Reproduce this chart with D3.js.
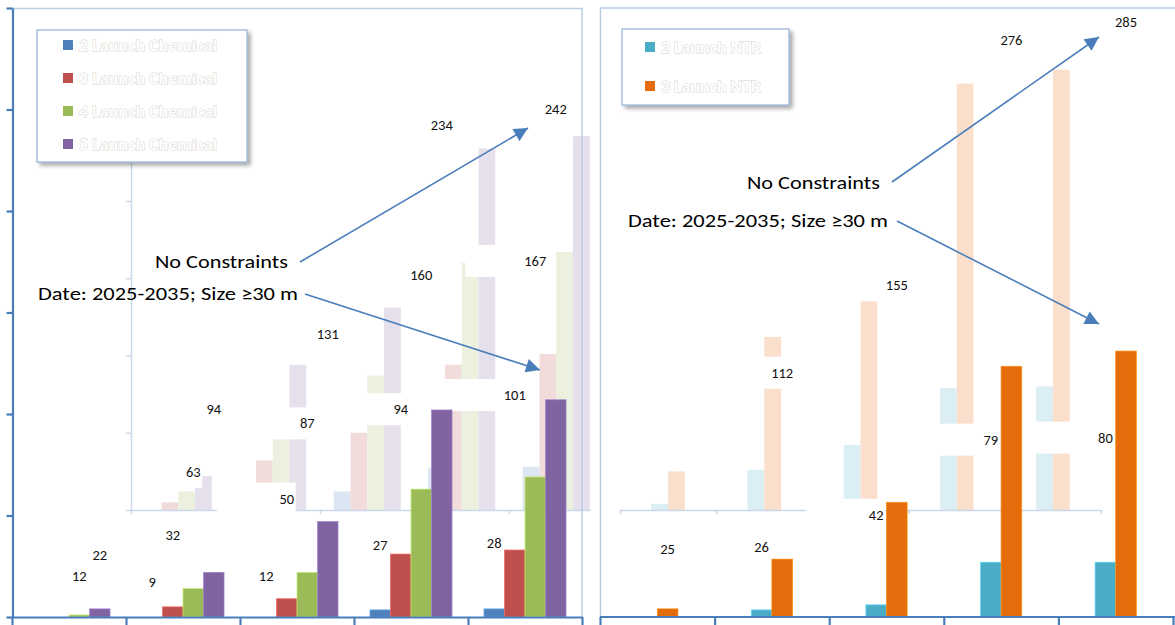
<!DOCTYPE html>
<html>
<head>
<meta charset="utf-8">
<script src="https://cdn.jsdelivr.net/npm/d3@7"></script>
<style>
  html, body { margin: 0; padding: 0; background: #fff; }
  svg { display: block; }
</style>
</head>
<body>
<svg id="chart" width="1175" height="625"></svg>
<script>
// ---------------- data ----------------
const categories = ["G1", "G2", "G3", "G4", "G5"];

const chemSeries = ["2 Launch Chemical", "3 Launch Chemical", "4 Launch Chemical", "5 Launch Chemical"];
const ntrSeries = ["2 Launch NTR", "3 Launch NTR"];

// Date 2025-2035, size >= 30 m (solid bars)
const chem2 = [0, 0, 0, 3.5, 4];
const chem3 = [0, 5, 9, 31, 33];
const chem4 = [1, 14, 22, 63, 69];
const chem5 = [4, 22, 47, 102, 107];
const ntr2 = [0, 3.5, 6, 27, 27];
const ntr3 = [4, 28.5, 56.5, 123.5, 131];

// No constraints (pale inset bars and value labels)
const chem2All = [0, 9, 12, 27, 28];
const chem3All = [5, 32, 50, 94, 101];
const chem4All = [12, 63, 87, 160, 167];
const chem5All = [22, 94, 131, 234, 242];
const ntr2All = [4, 26, 42, 79, 80];
const ntr3All = [25, 112, 155, 276, 285];

const yTicks = [0, 50, 100, 150, 200, 250, 300];
const labelMin = 8; // very small values are left unlabeled

// ---------------- styles ----------------
const chemColors = ["#4F81BD", "#C0504D", "#9BBB59", "#8064A2"];
const chemPale = ["#DCE6F2", "#F2DCDB", "#EBF1DE", "#E5E0EC"];
const ntrColors = ["#4BACC6", "#E46C0A"];
const ntrPale = ["#DAEEF3", "#FADFCD"];
const axisBlue = "#4A7EBB";
const frameBlue = "#B9CDE5";
const insetAxis = "#CAD8EA";
const font = "Carlito, Lato, 'Open Sans', sans-serif";

const svg = d3.select("#chart");
const defs = svg.append("defs");

// soft drop shadow for the legend boxes
const shadow = defs.append("filter").attr("id", "legendShadow")
  .attr("x", "-10%").attr("y", "-10%").attr("width", "130%").attr("height", "140%");
shadow.append("feGaussianBlur").attr("in", "SourceAlpha").attr("stdDeviation", 2.2);
shadow.append("feOffset").attr("dx", 3).attr("dy", 3);
shadow.append("feComponentTransfer").append("feFuncA").attr("type", "linear").attr("slope", 0.35);
const merge = shadow.append("feMerge");
merge.append("feMergeNode");
merge.append("feMergeNode").attr("in", "SourceGraphic");

defs.append("marker").attr("id", "arrowhead")
  .attr("viewBox", "0 0 10 10").attr("refX", 10).attr("refY", 5)
  .attr("markerWidth", 15).attr("markerHeight", 14)
  .attr("markerUnits", "userSpaceOnUse").attr("orient", "auto")
  .append("path").attr("d", "M0,0L10,5L0,10Z").attr("fill", axisBlue);

// shared value scales
const yMain = d3.scaleLinear().domain([0, 300]).range([617, 8]);
const yInset = d3.scaleLinear().domain([0, 300]).range([510, 46.5]);

const panels = [
  {
    id: "chem",
    series: chemSeries, solid: [chem2, chem3, chem4, chem5], pale: [chem2All, chem3All, chem4All, chem5All],
    colors: chemColors, paleColors: chemPale,
    frame: { x0: 12, x1: 582 }, pad: 0.28,
    inset: { x0: 131, x1: 603.5, clipRight: 591, yAxis: true }, insetPad: 0.29,
    legend: { x: 37, y: 30, w: 210, h: 132, rowTop: 45, rowGap: 33, sx: 63, tx: 79, textLen: 138 },
    leftAxis: true
  },
  {
    id: "ntr",
    series: ntrSeries, solid: [ntr2, ntr3], pale: [ntr2All, ntr3All],
    colors: ntrColors, paleColors: ntrPale,
    frame: { x0: 600, x1: 1173 }, pad: 0.64,
    inset: { x0: 620, x1: 1101, clipRight: 1175, yAxis: false }, insetPad: 0.65,
    legend: { x: 622, y: 29, w: 167, h: 76, rowTop: 47, rowGap: 39, sx: 645, tx: 661, textLen: 100 },
    leftAxis: false
  }
];

const layers = {
  inset: svg.append("g"),
  boxes: svg.append("g"),
  insetY: svg.append("g"),
  frame: svg.append("g"),
  bars: svg.append("g"),
  axes: svg.append("g"),
  labels: svg.append("g"),
  legend: svg.append("g"),
  notes: svg.append("g")
};

panels.forEach(p => {
  const n = p.series.length;

  // ---------- inset: no-constraint bars ----------
  const xi = d3.scaleBand().domain(categories).range([p.inset.x0, p.inset.x1])
    .paddingInner(p.insetPad).paddingOuter(p.insetPad / 2);
  const clipId = "clip-" + p.id;
  defs.append("clipPath").attr("id", clipId).append("rect")
    .attr("x", p.inset.x0 - 10).attr("y", 0)
    .attr("width", p.inset.clipRight - p.inset.x0 + 10).attr("height", 625);
  const gi = layers.inset.append("g").attr("clip-path", `url(#${clipId})`);

  const bwI = xi.bandwidth() / n;
  p.pale.forEach((vals, s) => {
    gi.append("g").selectAll("rect").data(vals).join("rect")
      .attr("x", (d, i) => xi(categories[i]) + s * bwI)
      .attr("width", bwI)
      .attr("y", d => yInset(d))
      .attr("height", d => yInset(0) - yInset(d))
      .attr("fill", p.paleColors[s]);
  });

  // inset axes
  const xiBound = d3.scaleLinear().domain([0, categories.length]).range([p.inset.x0, p.inset.x1]);
  const gxi = gi.append("g").attr("transform", `translate(0,${yInset(0)})`)
    .call(d3.axisBottom(xiBound).ticks(categories.length).tickSize(4).tickSizeOuter(0).tickFormat(""));
  gxi.selectAll("path,line").attr("stroke", insetAxis).attr("stroke-width", 1.5);
  if (p.inset.yAxis) {
    const gyi = layers.insetY.append("g").attr("transform", `translate(${p.inset.x0},0)`)
      .call(d3.axisLeft(yInset).tickValues(yTicks).tickSize(5).tickSizeOuter(0).tickFormat(""));
    gyi.selectAll("path,line").attr("stroke", insetAxis).attr("stroke-width", 1.5);
  }

  // ---------- main frame ----------
  const x = d3.scaleBand().domain(categories).range([p.frame.x0, p.frame.x1])
    .paddingInner(p.pad).paddingOuter(p.pad / 2);
  const bw = x.bandwidth() / n;

  const fr = layers.frame;
  if (p.leftAxis) {
    fr.append("line").attr("x1", p.frame.x0).attr("x2", p.frame.x1).attr("y1", yMain(300) + 0.5).attr("y2", yMain(300) + 0.5)
      .attr("stroke", frameBlue).attr("stroke-width", 1.5);
    fr.append("line").attr("x1", p.frame.x1).attr("x2", p.frame.x1).attr("y1", yMain(300)).attr("y2", yMain(0))
      .attr("stroke", frameBlue).attr("stroke-width", 1.5);
  } else {
    fr.append("line").attr("x1", p.frame.x0).attr("x2", 1175).attr("y1", yMain(300)).attr("y2", yMain(300))
      .attr("stroke", frameBlue).attr("stroke-width", 1.5);
    fr.append("line").attr("x1", p.frame.x0 + 0.5).attr("x2", p.frame.x0 + 0.5).attr("y1", yMain(300)).attr("y2", yMain(0))
      .attr("stroke", frameBlue).attr("stroke-width", 1.5);
  }

  // ---------- value-label boxes and labels (no-constraint values) ----------
  const labelData = [];
  p.pale.forEach((vals, s) => {
    vals.forEach((v, i) => {
      if (v >= labelMin) {
        labelData.push({ v, cx: x(categories[i]) + s * bw + bw / 2, cy: yMain(v) - 17 });
      }
    });
  });
  layers.boxes.append("g").selectAll("rect").data(labelData).join("rect")
    .attr("x", d => d.cx - 70).attr("width", 79)
    .attr("y", d => d.cy - 16).attr("height", 32)
    .attr("fill", "#fff");
  layers.labels.append("g").selectAll("text").data(labelData).join("text")
    .attr("x", d => d.cx).attr("y", d => d.cy).attr("dy", "0.35em")
    .attr("text-anchor", "middle")
    .attr("font-family", font).attr("font-size", 14.5).attr("fill", "#111")
    .text(d => d.v);

  // ---------- solid bars ----------
  p.solid.forEach((vals, s) => {
    layers.bars.append("g").selectAll("rect").data(vals).join("rect")
      .attr("x", (d, i) => x(categories[i]) + s * bw)
      .attr("width", bw)
      .attr("y", d => yMain(d))
      .attr("height", d => yMain(0) - yMain(d))
      .attr("fill", p.colors[s])
      .attr("stroke", d => d > 0 ? d3.color(p.colors[s]).brighter(0.7) : "none")
      .attr("stroke-width", 0.7);
  });

  // ---------- axes ----------
  const xBound = d3.scaleLinear().domain([0, categories.length]).range([p.frame.x0, p.frame.x1]);
  const gx = layers.axes.append("g").attr("transform", `translate(0,${yMain(0)})`)
    .call(d3.axisBottom(xBound).ticks(categories.length).tickSize(9).tickSizeOuter(0).tickFormat(""));
  gx.selectAll("path,line").attr("stroke", axisBlue).attr("stroke-width", 2.2);
  if (!p.leftAxis) {
    gx.select("path").attr("d", `M${p.frame.x0},0H1175`);
  }
  if (p.leftAxis) {
    const gy = layers.axes.append("g").attr("transform", `translate(${p.frame.x0 + 0.5},0)`)
      .call(d3.axisLeft(yMain).tickValues(yTicks).tickSize(6).tickSizeOuter(0).tickFormat(""));
    gy.selectAll("path,line").attr("stroke", axisBlue).attr("stroke-width", 2.2);
  }

  // ---------- legend ----------
  const L = p.legend;
  const gl = layers.legend.append("g");
  gl.append("rect").attr("x", L.x).attr("y", L.y).attr("width", L.w).attr("height", L.h)
    .attr("fill", "#fff").attr("stroke", "#95B3D7").attr("stroke-width", 1.2)
    .attr("filter", "url(#legendShadow)");
  const rows = gl.selectAll("g.row").data(p.series).join("g").attr("class", "row")
    .attr("transform", (d, i) => `translate(0,${L.rowTop + i * L.rowGap})`);
  rows.append("rect").attr("x", L.sx).attr("y", -5).attr("width", 10).attr("height", 10)
    .attr("fill", (d, i) => p.colors[i]);
  rows.append("text").attr("x", L.tx).attr("y", 5.5)
    .attr("font-family", font).attr("font-size", 15).attr("font-weight", "bold")
    .attr("fill", "#ffffff").attr("stroke", "#d6d0cb").attr("stroke-width", 0.8)
    .attr("paint-order", "stroke")
    .attr("textLength", L.textLen).attr("lengthAdjust", "spacingAndGlyphs")
    .text(d => d);
});

// ---------- annotations ----------
const notes = [
  { text: "No Constraints", x: 155, y: 268, len: 133, from: [300, 262], to: [528, 128] },
  { text: "Date: 2025-2035; Size  \u226530 m", x: 38, y: 300, len: 260, from: [305, 294], to: [540, 370] },
  { text: "No Constraints", x: 747, y: 189, len: 133, from: [892, 182], to: [1099, 37] },
  { text: "Date: 2025-2035; Size  \u226530 m", x: 628, y: 227, len: 260, from: [897, 221], to: [1099, 324] }
];
const gn = layers.notes;
gn.selectAll("text").data(notes).join("text")
  .attr("x", d => d.x).attr("y", d => d.y)
  .attr("font-family", font).attr("font-size", 19).attr("fill", "#000")
  .attr("textLength", d => d.len).attr("lengthAdjust", "spacingAndGlyphs")
  .text(d => d.text);
gn.selectAll("line").data(notes).join("line")
  .attr("x1", d => d.from[0]).attr("y1", d => d.from[1])
  .attr("x2", d => d.to[0]).attr("y2", d => d.to[1])
  .attr("stroke", axisBlue).attr("stroke-width", 1.6)
  .attr("marker-end", "url(#arrowhead)");
</script>
</body>
</html>
